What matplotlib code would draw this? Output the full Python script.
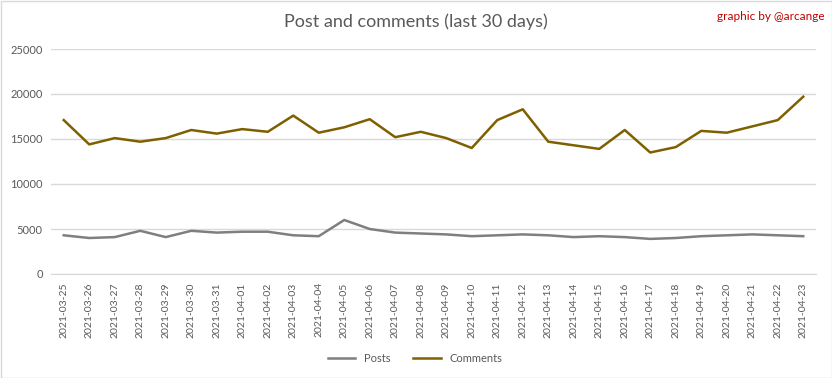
import matplotlib
matplotlib.use("Agg")
import matplotlib.pyplot as plt
from matplotlib.patches import Rectangle

dates = ["2021-03-25","2021-03-26","2021-03-27","2021-03-28","2021-03-29","2021-03-30","2021-03-31",
         "2021-04-01","2021-04-02","2021-04-03","2021-04-04","2021-04-05","2021-04-06","2021-04-07",
         "2021-04-08","2021-04-09","2021-04-10","2021-04-11","2021-04-12","2021-04-13","2021-04-14",
         "2021-04-15","2021-04-16","2021-04-17","2021-04-18","2021-04-19","2021-04-20","2021-04-21",
         "2021-04-22","2021-04-23"]
posts = [4300,4000,4100,4800,4100,4800,4600,4700,4700,4300,4200,6000,5000,4600,4500,
         4400,4200,4300,4400,4300,4100,4200,4100,3900,4000,4200,4300,4400,4300,4200]
comments = [17100,14400,15100,14700,15100,16000,15600,16100,15800,17600,15700,16300,17200,15200,15800,
            15100,14000,17100,18300,14700,14300,13900,16000,13500,14100,15900,15700,16400,17100,19700]
yticks = [0,5000,10000,15000,20000,25000]

plt.rcParams['font.family'] = ['Lato', 'DejaVu Sans']

fig = plt.figure(figsize=(8.32, 3.78), dpi=100)
ax = fig.add_axes([51/832, 1-274/378, (816-51)/832, (274-49)/378])

x = list(range(len(dates)))
ax.plot(x, posts, color="#7F7F7F", lw=1.8, label="Posts")
ax.plot(x, comments, color="#7F6000", lw=1.8, label="Comments")

ax.set_xlim(-0.5, len(dates)-0.5)
ax.set_ylim(0, 25000)
ax.set_yticks(yticks)
ax.set_yticklabels([str(v) for v in yticks], color="#595959", fontsize=8)
ax.set_xticks(x)
ax.set_xticklabels(dates, rotation=90, color="#595959", fontsize=7.5)
ax.grid(axis="y", color="#D9D9D9", lw=1)
ax.set_axisbelow(True)
for s in ["top", "right", "left"]:
    ax.spines[s].set_visible(False)
ax.spines["bottom"].set_color("#D9D9D9")
ax.tick_params(length=0, pad=6)

fig.text(0.5, 1-22/378, "Post and comments (last 30 days)", ha="center", va="center",
         fontsize=13, color="#595959")
fig.text(825/832, 1-17/378, "graphic by @arcange", ha="right", va="center",
         fontsize=8.5, color="#C00000")

leg = fig.legend(loc="center", bbox_to_anchor=(415/832, 1-358/378), ncol=2, frameon=False,
                 fontsize=8, handlelength=2.5, columnspacing=2, labelcolor="#595959")

fig.patches.append(Rectangle((0.5/832, 0.5/378), 1-1/832, 1-1/378, transform=fig.transFigure,
                             fill=False, edgecolor="#D9D9D9", lw=1))

fig.savefig("out.png", dpi=100)
